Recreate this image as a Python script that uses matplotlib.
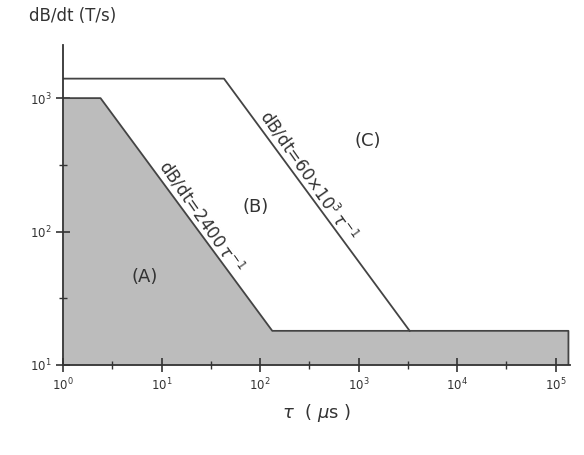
import numpy as np
import matplotlib
matplotlib.use("Agg")
import matplotlib.pyplot as plt
from matplotlib.ticker import FixedLocator, NullFormatter

# region boundaries (tau in us, dB/dt in T/s)
tau_a = [1, 2.4, 133, 1.35e5]
dbdt_a = [1000, 1000, 18, 18]
tau_c = [1, 43, 3300]
dbdt_c = [1400, 1400, 18]
region_labels = ["(A)", "(B)", "(C)"]
label_pos = [(6.8, 46), (90, 153), (1250, 475)]

fig = plt.figure(figsize=(5.84, 4.55), dpi=100)
ax = fig.add_axes([0.108, 0.198, 0.868, 0.703])
ax.set_xscale("log")
ax.set_yscale("log")
ax.set_xlim(1, 1.4e5)
ax.set_ylim(10, 2500)

ax.fill_between(tau_a, dbdt_a, 10, color="#bcbcbc", lw=0)
ax.plot(tau_a + [tau_a[-1]], dbdt_a + [10], color="#444444", lw=1.3)
ax.plot(tau_c, dbdt_c, color="#444444", lw=1.3)

for s in ("top", "right"):
    ax.spines[s].set_visible(False)
for s in ("left", "bottom"):
    ax.spines[s].set_linewidth(1.3)
    ax.spines[s].set_color("#333333")

ax.xaxis.set_major_locator(FixedLocator([1, 10, 100, 1e3, 1e4, 1e5]))
ax.xaxis.set_minor_locator(FixedLocator([10 ** (k + 0.5) for k in range(5)]))
ax.yaxis.set_major_locator(FixedLocator([10, 100, 1000]))
ax.yaxis.set_minor_locator(FixedLocator([10 ** 1.5, 10 ** 2.5]))
ax.yaxis.set_minor_formatter(NullFormatter())
ax.xaxis.set_minor_formatter(NullFormatter())
ax.tick_params(which="major", direction="inout", length=10, width=1.2, labelsize=8.5, colors="#333333")
ax.tick_params(which="minor", direction="inout", length=6, width=1, colors="#333333")

for t, (x, y) in zip(region_labels, label_pos):
    ax.text(x, y, t, fontsize=13, ha="center", va="center", color="#333333")

ax.text(20.5, 117, r"dB/dt=2400$\,\tau^{-1}$", rotation=-55, fontsize=12,
        ha="center", va="bottom", color="#333333", rotation_mode="anchor")
ax.text(255, 235, r"dB/dt=60$\times$10$^{3}\,\tau^{-1}$", rotation=-55, fontsize=12,
        ha="center", va="bottom", color="#333333", rotation_mode="anchor")

fig.text(0.05, 0.965, "dB/dt (T/s)", fontsize=12, color="#333333", va="center")
ax.set_xlabel(r"$\tau$  ( $\mu$s )", fontsize=13, color="#333333", labelpad=6)

fig.savefig("out.png", dpi=100)
